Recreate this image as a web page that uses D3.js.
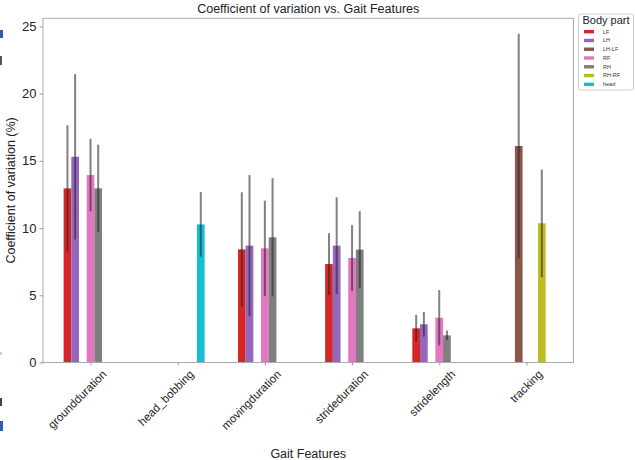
<!DOCTYPE html>
<html><head><meta charset="utf-8">
<script src="https://cdn.jsdelivr.net/npm/d3@7"></script>
<style>body{margin:0;background:#fff}svg{display:block}text{font-family:"Liberation Sans",Arial,sans-serif}</style>
</head><body><svg id="c" width="635" height="460"></svg>
<script>
const categories = ["groundduration","head_bobbing","movingduration","strideduration","stridelength","tracking"];
const seriesNames = ["LF","LH","LH-LF","RF","RH","RH-RF","head"];
const seriesColors = ["#d62728","#9467bd","#8c564b","#e377c2","#7f7f7f","#bcbd22","#17becf"];
const LF    = [12.95, null, 8.41, 7.32, 2.54, null];
const LH    = [15.3,  null, 8.69, 8.69, 2.84, null];
const LHLF  = [null, null, null, null, null, 16.1];
const RF    = [13.94, null, 8.49, 7.77, 3.33, null];
const RH    = [12.95, null, 9.31, 8.39, 2.02, null];
const RHRF  = [null, null, null, null, null, 10.35];
const head  = [null, 10.27, null, null, null, null];
const LFerr   = [4.7, null, 4.25, 2.3, 1.0, null];
const LHerr   = [6.15, null, 5.25, 3.6, 0.92, null];
const LHLFerr = [null, null, null, null, null, 8.35];
const RFerr   = [2.7, null, 3.55, 2.45, 2.06, null];
const RHerr   = [3.25, null, 4.4, 2.86, 0.36, null];
const RHRFerr = [null, null, null, null, null, 4.0];
const headerr = [null, 2.4, null, null, null, null];
const yTicks = [0,5,10,15,20,25];

const values = [LF, LH, LHLF, RF, RH, RHRF, head];
const errors = [LFerr, LHerr, LHLFerr, RFerr, RHerr, RHRFerr, headerr];

const svg = d3.select("#c");
const L = 43, R = 573.5, T = 18.3, B = 362.5;
const x = d3.scaleLinear().domain([-0.545, 5.54]).range([L, R]);
const y = d3.scaleLinear().domain([0, 25.6]).range([B, T]);
const bw = 0.0882; // bar width in category units

// edge artifacts from the source screenshot
svg.append("rect").attr("x",0).attr("y",30).attr("width",3).attr("height",8).attr("fill","#2b5cad");
svg.append("rect").attr("x",0).attr("y",421).attr("width",3).attr("height",10).attr("fill","#2b5cad");
svg.append("rect").attr("x",0).attr("y",56).attr("width",2).attr("height",9).attr("fill","#555");
svg.append("rect").attr("x",0).attr("y",398).attr("width",2).attr("height",8).attr("fill","#444");
svg.append("rect").attr("x",0).attr("y",352).attr("width",2).attr("height",3).attr("fill","#ccc");

const g = svg.append("g");
const data = [];
values.forEach((arr, s) => arr.forEach((v, c) => {
  if (v !== null) data.push({s, c, v, e: errors[s][c]});
}));

g.selectAll("rect.bar").data(data).enter().append("rect")
  .attr("class","bar")
  .attr("x", d => x(d.c + (d.s - 3) * bw - bw/2))
  .attr("width", d => x(bw) - x(0))
  .attr("y", d => y(d.v))
  .attr("height", d => y(0) - y(d.v))
  .attr("fill", d => seriesColors[d.s]);

g.selectAll("line.err").data(data).enter().append("line")
  .attr("x1", d => x(d.c + (d.s - 3) * bw))
  .attr("x2", d => x(d.c + (d.s - 3) * bw))
  .attr("y1", d => y(d.v - d.e))
  .attr("y2", d => y(d.v + d.e))
  .attr("stroke", "#262626").attr("stroke-opacity", 0.58).attr("stroke-width", 2);

// axes
const yAxis = d3.axisLeft(y).tickValues(yTicks).tickSize(3.5).tickPadding(3);
const ya = svg.append("g").attr("transform", `translate(${L},0)`).call(yAxis);
ya.select(".domain").remove();
ya.selectAll("line").attr("stroke","#999");
ya.selectAll("text").attr("font-size","13px").attr("fill","#222").style("font-family","'Liberation Sans',Arial,sans-serif");

const xAxis = d3.axisBottom(x).tickValues(d3.range(categories.length)).tickFormat(i => categories[i]).tickSize(3).tickPadding(2);
const xa = svg.append("g").attr("transform", `translate(0,${B})`).call(xAxis);
xa.select(".domain").remove();
xa.selectAll("line").attr("stroke","#999");
xa.selectAll("text").attr("font-size","11.5px").attr("fill","#222")
  .attr("text-anchor","end").attr("dy","0.35em")
  .attr("transform","translate(10,6) rotate(-45)")
  .style("font-family","'Liberation Sans',Arial,sans-serif");

svg.append("rect").attr("x",L).attr("y",T).attr("width",R-L).attr("height",B-T)
  .attr("fill","none").attr("stroke","#aaa").attr("stroke-width",1);

// titles
svg.append("text").attr("x",(L+R)/2).attr("y",13).attr("text-anchor","middle")
  .attr("font-size","12.5px").attr("fill","#222").text("Coefficient of variation vs. Gait Features");
svg.append("text").attr("x",(L+R)/2).attr("y",458).attr("text-anchor","middle")
  .attr("font-size","12.5px").attr("fill","#222").text("Gait Features");
svg.append("text").attr("transform",`translate(15,${(T+B)/2}) rotate(-90)`).attr("text-anchor","middle")
  .attr("font-size","12.5px").attr("fill","#222").text("Coefficient of variation (%)");

// legend
const lg = svg.append("g");
lg.append("rect").attr("x",578.5).attr("y",14).attr("width",55).attr("height",76).attr("rx",2)
  .attr("fill","#fff").attr("stroke","#ccc");
lg.append("text").attr("x",606).attr("y",24).attr("text-anchor","middle").attr("font-size","11px").attr("fill","#222").text("Body part");
seriesNames.forEach((n, i) => {
  const cy = 31.7 + i * 8.77;
  lg.append("rect").attr("x",584).attr("y",cy-1.7).attr("width",10).attr("height",3.4).attr("fill",seriesColors[i]);
  lg.append("text").attr("x",603).attr("y",cy+1.8).attr("font-size","5.5px").attr("fill","#333").text(n);
});
</script></body></html>
